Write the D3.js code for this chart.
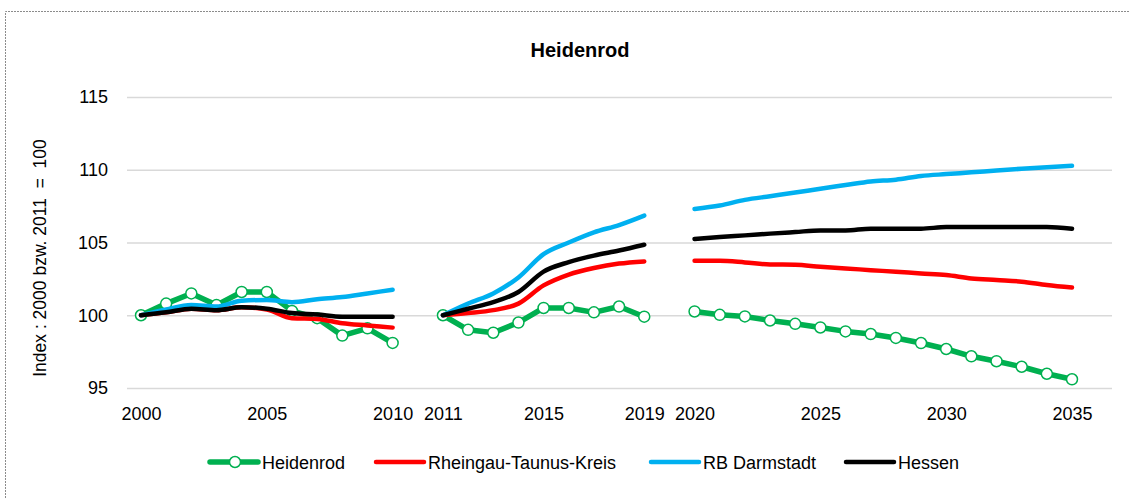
<!DOCTYPE html>
<html>
<head>
<meta charset="utf-8">
<script src="https://cdn.jsdelivr.net/npm/d3@7"></script>
<style>
  body { margin: 0; background: #fff; }
  svg text { font-family: "Liberation Sans", Arial, sans-serif; fill: #000; }
</style>
</head>
<body>
<svg id="chart" width="1130" height="498"></svg>
<script>
// categories: three periods, with an empty slot between them
var years1 = d3.range(2000, 2011);
var years2 = d3.range(2011, 2020);
var years3 = d3.range(2020, 2036);
var tickYears = [2000, 2005, 2010, 2011, 2015, 2019, 2020, 2025, 2030, 2035];
var yTicks = [95, 100, 105, 110, 115];

var heidenrod1 = [100, 100.8, 101.5, 100.7, 101.6, 101.6, 100.3, 99.8, 98.6, 99.1, 98.1];
var heidenrod2 = [100, 99.0, 98.8, 99.5, 100.5, 100.5, 100.2, 100.6, 99.9];
var heidenrod3 = [100.26, 100.03, 99.92, 99.64, 99.41, 99.16, 98.89, 98.71, 98.44, 98.09, 97.68, 97.18, 96.84, 96.46, 95.98, 95.6];

var rtk1 = [100, 100.2, 100.45, 100.35, 100.55, 100.4, 99.8, 99.75, 99.45, 99.3, 99.15];
var rtk2 = [100, 100.15, 100.35, 100.8, 102.05, 102.8, 103.25, 103.55, 103.7];
var rtk3 = [103.74, 103.74, 103.63, 103.49, 103.47, 103.33, 103.22, 103.1, 102.99, 102.87, 102.76, 102.53, 102.42, 102.31, 102.08, 101.9];

var darmstadt1 = [100, 100.4, 100.7, 100.6, 101.0, 101.05, 100.9, 101.1, 101.25, 101.5, 101.75];
var darmstadt2 = [100, 100.8, 101.5, 102.6, 104.2, 105.0, 105.7, 106.2, 106.85];
var darmstadt3 = [107.31, 107.54, 107.93, 108.18, 108.43, 108.7, 108.95, 109.2, 109.32, 109.57, 109.7, 109.82, 109.95, 110.07, 110.18, 110.27];

var hessen1 = [100, 100.2, 100.45, 100.35, 100.55, 100.45, 100.15, 100.05, 99.9, 99.9, 99.9];
var hessen2 = [100, 100.45, 100.9, 101.6, 103.0, 103.65, 104.1, 104.45, 104.85];
var hessen3 = [105.24, 105.38, 105.49, 105.61, 105.72, 105.83, 105.83, 105.95, 105.95, 105.95, 106.06, 106.06, 106.06, 106.06, 106.06, 105.95];

var seriesNames = ["Heidenrod", "Rheingau-Taunus-Kreis", "RB Darmstadt", "Hessen"];
var seriesColors = ["#00B050", "#FF0000", "#00B0F0", "#000000"];

var series = [
  { name: seriesNames[0], color: seriesColors[0], markers: true, parts: [heidenrod1, heidenrod2, heidenrod3] },
  { name: seriesNames[1], color: seriesColors[1], markers: false, parts: [rtk1, rtk2, rtk3] },
  { name: seriesNames[2], color: seriesColors[2], markers: false, parts: [darmstadt1, darmstadt2, darmstadt3] },
  { name: seriesNames[3], color: seriesColors[3], markers: false, parts: [hessen1, hessen2, hessen3] }
];
var periods = [years1, years2, years3];
var prefixes = ["a", "b", "c"];

// category keys with blank slots between the periods
var keys = years1.map(function(y) { return "a" + y; })
  .concat(["gap1"])
  .concat(years2.map(function(y) { return "b" + y; }))
  .concat(["gap2"])
  .concat(years3.map(function(y) { return "c" + y; }));

function keyOf(year) {
  if (year <= 2010) return "a" + year;
  if (year <= 2019) return "b" + year;
  return "c" + year;
}

var svg = d3.select("#chart");
var plot = { left: 127, right: 1112, top: 97, bottom: 388 };

var x = d3.scalePoint().domain(keys).range([141, 1072]);
var y = d3.scaleLinear().domain([95, 115]).range([plot.bottom, plot.top]);

// dotted frame
svg.append("path")
  .attr("d", "M5.5,498 L5.5,11.5 L1130,11.5")
  .attr("fill", "none").attr("stroke", "#8c8c8c").attr("stroke-width", 1)
  .attr("stroke-dasharray", "2,1");

// title
svg.append("text").attr("x", 580).attr("y", 57).attr("text-anchor", "middle")
  .attr("font-weight", "bold").attr("font-size", 20).text("Heidenrod");

// grid + y labels
var yAxis = d3.axisLeft(y).tickValues(yTicks).tickSize(-(plot.right - plot.left)).tickPadding(19);
var gy = svg.append("g").attr("transform", "translate(" + plot.left + ",0)").call(yAxis);
gy.select(".domain").remove();
gy.selectAll(".tick line").attr("stroke", "#d9d9d9").attr("stroke-width", 1.5);
gy.selectAll(".tick text").attr("font-size", 18).attr("font-family", null);

// x labels
var xAxis = d3.axisBottom(x).tickValues(tickYears.map(keyOf))
  .tickFormat(function(k) { return k.slice(1); }).tickSize(0).tickPadding(19);
var gx = svg.append("g").attr("transform", "translate(0," + plot.bottom + ")").call(xAxis);
gx.select(".domain").remove();
gx.selectAll(".tick text").attr("font-size", 18).attr("font-family", null);

// y title
svg.append("text").attr("transform", "translate(46,258) rotate(-90)")
  .attr("text-anchor", "middle").attr("font-size", 17.5)
  .style("white-space", "pre").text("Index : 2000 bzw. 2011  =  100");

// lines
series.forEach(function(s) {
  var line = d3.line()
    .x(function(d) { return x(d.k); })
    .y(function(d) { return y(d.v); })
    .curve(s.markers ? d3.curveLinear : d3.curveMonotoneX);
  s.parts.forEach(function(vals, pi) {
    var pts = vals.map(function(v, i) { return { k: prefixes[pi] + periods[pi][i], v: v }; });
    svg.append("path").datum(pts)
      .attr("d", line).attr("fill", "none")
      .attr("stroke", s.color).attr("stroke-width", s.markers ? 5.5 : 4.5)
      .attr("stroke-linejoin", "round").attr("stroke-linecap", "round");
    if (s.markers) {
      svg.selectAll(null).data(pts).enter().append("circle")
        .attr("cx", function(d) { return x(d.k); })
        .attr("cy", function(d) { return y(d.v); })
        .attr("r", 5.5).attr("fill", "#fff")
        .attr("stroke", s.color).attr("stroke-width", 1.5);
    }
  });
});

// legend
var legendX = [210, 376, 651, 846];
var legend = svg.append("g");
series.forEach(function(s, i) {
  var lx = legendX[i], ly = 462;
  legend.append("line").attr("x1", lx).attr("x2", lx + 48).attr("y1", ly).attr("y2", ly)
    .attr("stroke", s.color).attr("stroke-width", s.markers ? 5.5 : 4.5).attr("stroke-linecap", "round");
  if (s.markers) {
    legend.append("circle").attr("cx", lx + 25).attr("cy", ly).attr("r", 5.5)
      .attr("fill", "#fff").attr("stroke", s.color).attr("stroke-width", 1.5);
  }
  legend.append("text").attr("x", lx + 52).attr("y", ly + 6.5).attr("font-size", 18).text(s.name);
});
</script>
</body>
</html>
